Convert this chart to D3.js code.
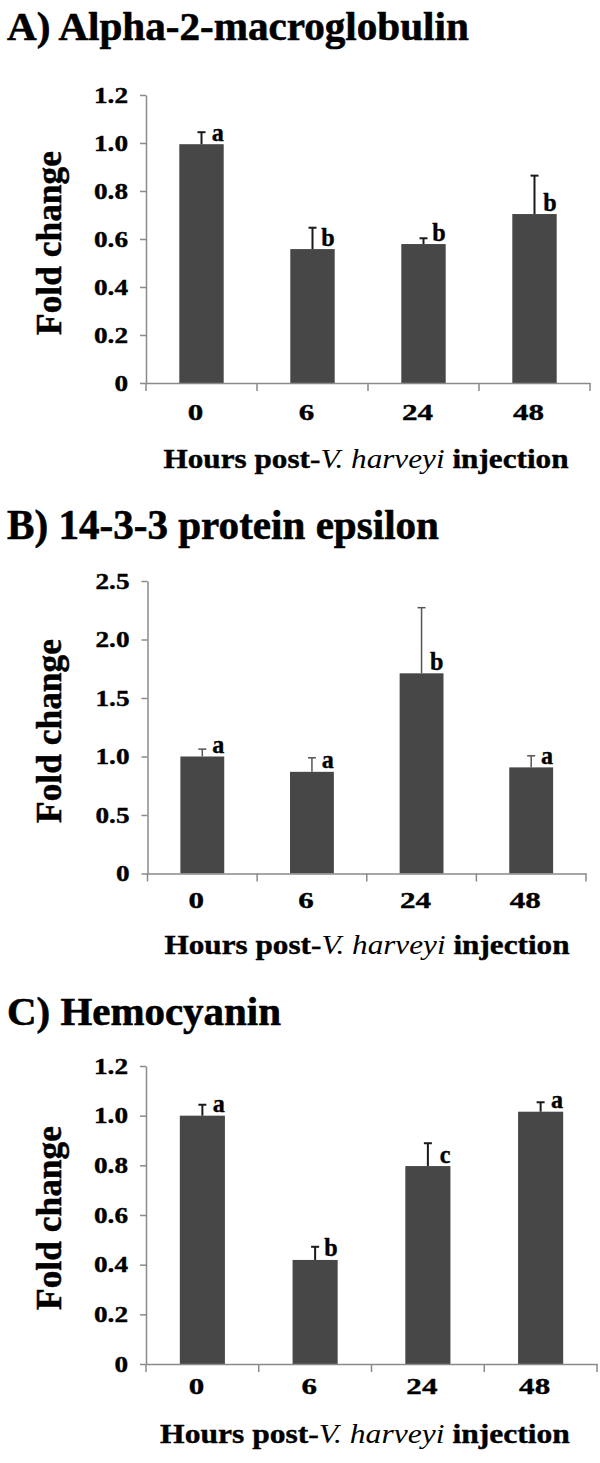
<!DOCTYPE html>
<html><head><meta charset="utf-8">
<script src="https://cdn.jsdelivr.net/npm/d3@7"></script>
<style>
body{margin:0;background:#fff}
svg{display:block}
</style>
</head><body>
<script>
// ---------- data ----------
const categories = ["0", "6", "24", "48"];
const panelTitles = ["A) Alpha-2-macroglobulin", "B) 14-3-3 protein epsilon", "C) Hemocyanin"];

const a2mMeans   = [0.995, 0.558, 0.579, 0.704];
const a2mErrors  = [0.050, 0.089, 0.024, 0.160];
const a2mLetters = ["a", "b", "b", "b"];

const ywhaeMeans   = [1.000, 0.869, 1.711, 0.907];
const ywhaeErrors  = [0.063, 0.120, 0.561, 0.099];
const ywhaeLetters = ["a", "a", "b", "a"];

const hemoMeans   = [1.000, 0.419, 0.797, 1.016];
const hemoErrors  = [0.044, 0.053, 0.092, 0.038];
const hemoLetters = ["a", "b", "c", "a"];

const yTicksA = [0, 0.2, 0.4, 0.6, 0.8, 1.0, 1.2];
const yTickLabelsA = ["0", "0.2", "0.4", "0.6", "0.8", "1.0", "1.2"];
const yTicksB = [0, 0.5, 1.0, 1.5, 2.0, 2.5];
const yTickLabelsB = ["0", "0.5", "1.0", "1.5", "2.0", "2.5"];
const yTicksC = [0, 0.2, 0.4, 0.6, 0.8, 1.0, 1.2];
const yTickLabelsC = ["0", "0.2", "0.4", "0.6", "0.8", "1.0", "1.2"];

const xTitleParts = ["Hours post-", "V. harveyi", " injection"];
const yTitle = "Fold change";

// ---------- font pick ----------
const ctx = document.createElement("canvas").getContext("2d");
function pickFont(cands) {
  const s = "Alpha-2-macroglobulin 0123456789";
  ctx.font = "bold 40px monospace"; const wm = ctx.measureText(s).width;
  ctx.font = "bold 40px sans-serif"; const ws = ctx.measureText(s).width;
  for (const f of cands) {
    ctx.font = `bold 40px "${f}", monospace`; const a = ctx.measureText(s).width;
    ctx.font = `bold 40px "${f}", sans-serif`; const b = ctx.measureText(s).width;
    if (Math.abs(a - wm) > 0.5 || Math.abs(b - ws) > 0.5) return f;
  }
  return "serif";
}
const FONT = pickFont(["Liberation Serif", "Times New Roman", "Tinos", "Nimbus Roman", "FreeSerif",
                       "DejaVu Serif Condensed", "Noto Serif", "DejaVu Serif"]);
ctx.font = `bold 100px "${FONT}", serif`;
let CAP = ctx.measureText("H").actualBoundingBoxAscent / 100;
if (!(CAP > 0.5 && CAP < 0.9)) CAP = 0.72;
const sizeFor = cap => cap / CAP;

// ---------- layout (positions / styles only) ----------
const W = 600, H = 1463;
const panels = [
  {means: a2mMeans, errs: a2mErrors, letters: a2mLetters, ticks: yTicksA, tickLabels: yTickLabelsA, yMax: 1.2,
   x0: 146, x1: 590, yZero: 383, yTop: 95, titleY: 40, titleCap: 26, titleW: 462, xLabY: 419.5, xTitleY: 467.5, xTitleCx: 366, xTitleW: 405,
   foldCy: 243, errColor: "#1a1a1a", errW: 2},
  {means: ywhaeMeans, errs: ywhaeErrors, letters: ywhaeLetters, ticks: yTicksB, tickLabels: yTickLabelsB, yMax: 2.5,
   x0: 147.5, x1: 586, yZero: 873.5, yTop: 581, titleY: 538.5, titleCap: 27.5, titleW: 432, xLabY: 907.5, xTitleY: 954, xTitleCx: 367, xTitleW: 405,
   foldCy: 731, errColor: "#555", errW: 1.5},
  {means: hemoMeans, errs: hemoErrors, letters: hemoLetters, ticks: yTicksC, tickLabels: yTickLabelsC, yMax: 1.2,
   x0: 146, x1: 597, yZero: 1364, yTop: 1066, titleY: 1024.5, titleCap: 26, titleW: 274, xLabY: 1393.5, xTitleY: 1442.5, xTitleCx: 365, xTitleW: 410,
   foldCy: 1218, errColor: "#1a1a1a", errW: 2}
];

const svg = d3.select("body").append("svg").attr("width", W).attr("height", H)
  .style("font-family", `"${FONT}", serif`).style("font-weight", "bold")
  .style("fill", "#000");

function fitScale(sel, target) {
  return target / sel.node().getComputedTextLength();
}
function heavy(sel, w) { return sel.attr("stroke", "#000").attr("stroke-width", w).attr("stroke-linejoin", "round"); }

const probe = svg.append("text").attr("font-size", sizeFor(15)).text("1.2");
const tickSX = fitScale(probe, 34);
probe.remove();
const probe2 = svg.append("text").attr("font-size", sizeFor(15.5)).text("24");
const xTickSX = fitScale(probe2, 31);
probe2.remove();

panels.forEach((p, i) => {
  const g = svg.append("g");

  // title
  const t = g.append("text").attr("font-size", sizeFor(p.titleCap)).text(panelTitles[i]);
  heavy(t, 0.6);
  t.attr("transform", `translate(7,${p.titleY}) scale(${fitScale(t, p.titleW)},1)`);

  const xOuter = d3.scaleBand().domain(categories).range([p.x0, p.x1]).padding(0);
  const xBar = d3.scaleBand().domain(categories).range([p.x0, p.x1]).paddingInner(0.6).paddingOuter(0.3);
  const y = d3.scaleLinear().domain([0, p.yMax]).range([p.yZero, p.yTop]);

  // bars
  g.selectAll("rect.bar").data(categories).join("rect")
    .attr("x", c => xBar(c)).attr("width", xBar.bandwidth())
    .attr("y", (c, k) => y(p.means[k])).attr("height", (c, k) => p.yZero - y(p.means[k]))
    .attr("fill", "#474747");

  // error bars + letters
  const capHalf = 4;
  categories.forEach((c, k) => {
    const cx = xBar(c) + xBar.bandwidth() / 2;
    const yt = y(p.means[k] + p.errs[k]);
    g.append("line").attr("x1", cx).attr("x2", cx).attr("y1", y(p.means[k])).attr("y2", yt)
      .attr("stroke", p.errColor).attr("stroke-width", p.errW);
    g.append("line").attr("x1", cx - capHalf).attr("x2", cx + capHalf).attr("y1", yt).attr("y2", yt)
      .attr("stroke", p.errColor).attr("stroke-width", p.errW);
    heavy(g.append("text").attr("font-size", sizeFor(16.5)).attr("text-anchor", "end")
      .attr("transform", `translate(${xBar(c) + xBar.bandwidth()},${y(p.means[k]) - 3.5}) scale(0.95,1)`)
      .text(p.letters[k]), 0.4);
  });

  // y axis
  const yAxis = d3.axisLeft(y).tickValues(p.ticks).tickSize(6).tickSizeOuter(0).tickFormat("");
  const ya = g.append("g").attr("transform", `translate(${p.x0},0)`).call(yAxis);
  ya.selectAll("path,line").attr("stroke", "#8a8a8a").attr("stroke-width", 1.5);

  // y tick labels
  p.ticks.forEach((v, k) => {
    heavy(g.append("text").attr("font-size", sizeFor(15)).attr("text-anchor", "end")
      .attr("transform", `translate(${p.x0 - 18},${y(v) + 7.5}) scale(${tickSX},1)`)
      .text(p.tickLabels[k]), 0.4);
  });

  // x axis
  const xAxis = d3.axisBottom(xOuter).tickSize(0).tickSizeOuter(0).tickFormat("");
  const xa = g.append("g").attr("transform", `translate(0,${p.yZero})`).call(xAxis);
  xa.selectAll("path").attr("stroke", "#8a8a8a").attr("stroke-width", 1.5);
  const bounds = categories.map(c => xOuter(c)).concat([xOuter(categories[categories.length - 1]) + xOuter.bandwidth()]);
  g.selectAll("line.xb").data(bounds).join("line")
    .attr("x1", d => d).attr("x2", d => d).attr("y1", p.yZero).attr("y2", p.yZero + 8)
    .attr("stroke", "#8a8a8a").attr("stroke-width", 1.5);

  // x tick labels
  categories.forEach(c => {
    heavy(g.append("text").attr("font-size", sizeFor(15.5)).attr("text-anchor", "middle")
      .attr("transform", `translate(${xOuter(c) + xOuter.bandwidth() / 2 - 6},${p.xLabY}) scale(${xTickSX},1)`)
      .text(c), 0.4);
  });

  // x title
  const xt = g.append("text").attr("font-size", sizeFor(18)).attr("text-anchor", "middle");
  xt.append("tspan").attr("stroke", "#000").attr("stroke-width", 0.4).text(xTitleParts[0]);
  xt.append("tspan").attr("font-style", "italic").attr("font-weight", "normal").text(xTitleParts[1]);
  xt.append("tspan").attr("stroke", "#000").attr("stroke-width", 0.4).text(xTitleParts[2]);
  xt.attr("transform", `translate(${p.xTitleCx},${p.xTitleY}) scale(${fitScale(xt, p.xTitleW)},1)`);

  // y title
  const yt = g.append("text").attr("font-size", sizeFor(23)).attr("text-anchor", "middle").text(yTitle);
  heavy(yt, 0.5);
  yt.attr("transform", `translate(61,${p.foldCy}) rotate(-90) scale(${fitScale(yt, 184)},1)`);
});
</script>
</body></html>
